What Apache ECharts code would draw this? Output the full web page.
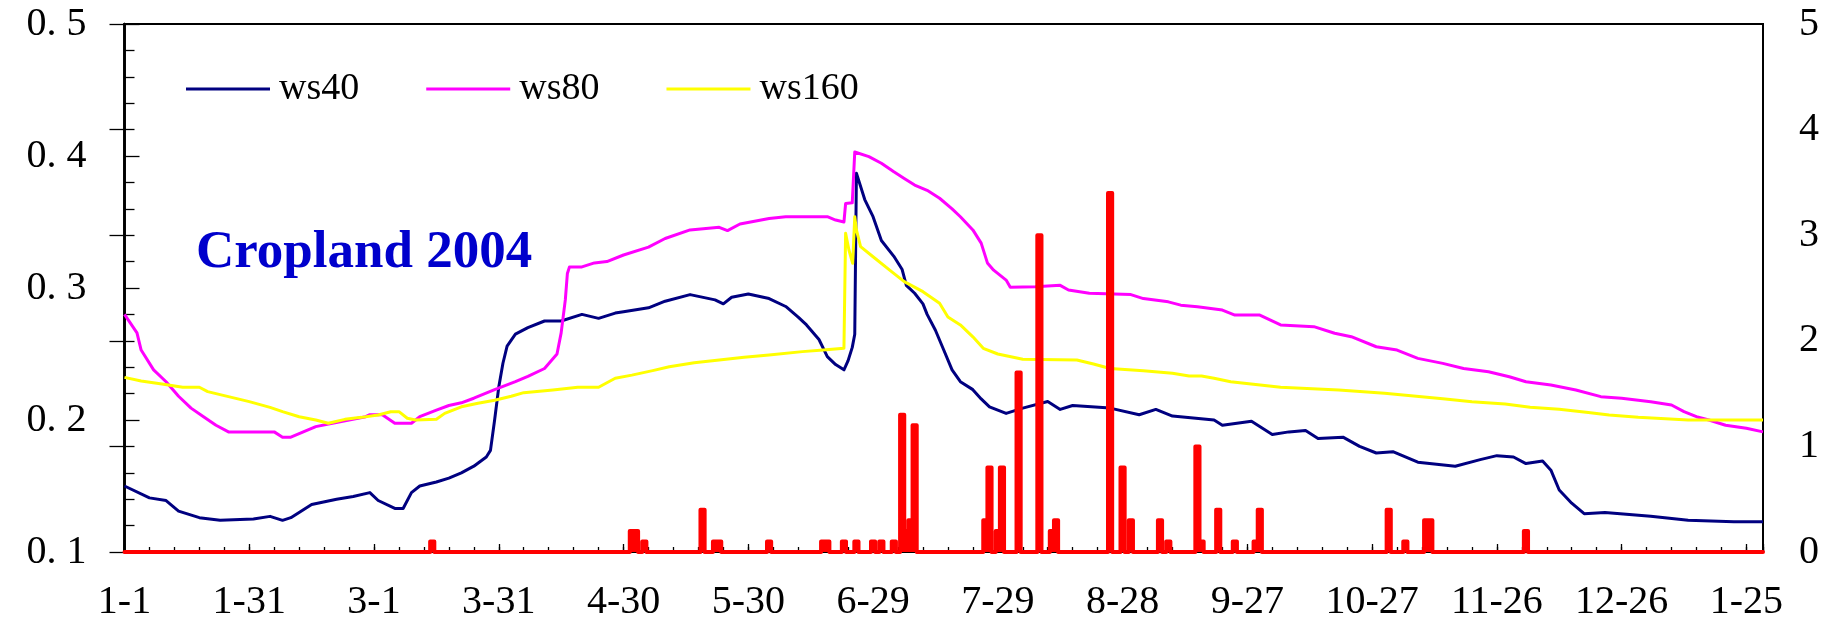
<!DOCTYPE html>
<html>
<head>
<meta charset="utf-8">
<script src="https://cdn.jsdelivr.net/npm/echarts@6/dist/echarts.min.js"></script>
<style>
  html, body { margin: 0; padding: 0; background: #fff; }
  #main { width: 1827px; height: 623px; }
</style>
</head>
<body>
<div id="main"></div>
<script>
// x axis: day index from 2004-01-01, a label every 30 days
var tickLabels = ['1-1', '1-31', '3-1', '3-31', '4-30', '5-30', '6-29', '7-29',
    '8-28', '9-27', '10-27', '11-26', '12-26', '1-25'];
var lastDay = 394;

// [day, value] (left axis)
var ws40 = [
    [0, 0.150], [6, 0.141], [10, 0.139], [13, 0.131], [18, 0.126], [23, 0.124], [31, 0.125],
    [35, 0.127], [38, 0.124], [40, 0.126], [45, 0.136], [51, 0.140], [55, 0.142], [59, 0.145],
    [61, 0.139], [65, 0.133], [67, 0.133], [69, 0.145], [71, 0.150], [75, 0.153], [78, 0.156],
    [81, 0.160], [84, 0.165], [87, 0.172], [88, 0.177], [89, 0.200], [90, 0.225], [91, 0.243],
    [92, 0.256], [94, 0.265], [97, 0.270], [101, 0.275], [105, 0.275], [110, 0.280], [114, 0.277],
    [118, 0.281], [120, 0.282], [126, 0.285], [130, 0.290], [136, 0.295], [142, 0.291], [144, 0.288],
    [146, 0.293], [150, 0.2955], [155, 0.292], [159, 0.286], [162, 0.278], [164, 0.272], [167, 0.261],
    [169, 0.248], [171, 0.242], [173, 0.238], [174, 0.245], [175, 0.255], [175.6, 0.265], [176, 0.387],
    [178, 0.367], [180, 0.354], [182, 0.336], [185, 0.324], [187, 0.314], [188, 0.302], [190, 0.296],
    [192, 0.288], [193, 0.280], [195, 0.268], [197, 0.253], [199, 0.238], [201, 0.229], [204, 0.223],
    [206, 0.216], [208, 0.210], [212, 0.205], [216, 0.209], [222, 0.214], [225, 0.208], [228, 0.211],
    [237, 0.209], [244, 0.204], [248, 0.208], [252, 0.203], [262, 0.200], [264, 0.196], [271, 0.199],
    [276, 0.189], [280, 0.191], [284, 0.192], [287, 0.186], [293, 0.187], [297, 0.180], [301, 0.175],
    [305, 0.176], [311, 0.168], [320, 0.165], [326, 0.170], [330, 0.173], [334, 0.172], [337, 0.167],
    [341, 0.169], [343, 0.162], [345, 0.147], [348, 0.137], [351, 0.129], [356, 0.130], [367, 0.127],
    [376, 0.124], [387, 0.123], [394, 0.123]
];

var ws80 = [
    [0, 0.280], [3, 0.266], [4, 0.253], [7, 0.238], [10, 0.229], [13, 0.218], [16, 0.209], [19, 0.2025],
    [22, 0.196], [25, 0.191], [36, 0.191], [38, 0.187], [40, 0.187], [43, 0.191], [46, 0.195],
    [50, 0.1975], [54, 0.200], [58, 0.2025], [59, 0.204], [62, 0.204], [65, 0.1975], [69, 0.1975],
    [71, 0.2025], [75, 0.2075], [78, 0.211], [81, 0.213], [84, 0.2165], [89, 0.223], [94, 0.229],
    [97, 0.233], [101, 0.239], [104, 0.250], [105, 0.266], [106, 0.291], [106.5, 0.311], [107, 0.316],
    [110, 0.316], [113, 0.319], [116, 0.320], [120, 0.325], [126, 0.331], [130, 0.3375], [136, 0.344],
    [143, 0.346], [145, 0.3435], [148, 0.3485], [155, 0.3527], [159, 0.354], [169, 0.354], [171, 0.3515],
    [173, 0.350], [173.4, 0.364], [175, 0.3645], [175.6, 0.403], [176, 0.404], [179, 0.3995],
    [182, 0.3945], [185, 0.388], [187.5, 0.383], [190, 0.378], [193, 0.374], [196, 0.368], [199, 0.360],
    [201, 0.354], [204, 0.344], [206, 0.334], [207.5, 0.319], [209, 0.3135], [212, 0.306], [213, 0.3005],
    [219, 0.301], [225, 0.302], [227, 0.2985], [232, 0.296], [242, 0.295], [245, 0.292], [251, 0.2895],
    [254, 0.287], [258, 0.2858], [264, 0.2833], [267, 0.2795], [273, 0.2795], [278, 0.272], [286, 0.2707],
    [291, 0.2657], [295, 0.2631], [301, 0.2555], [306, 0.253], [311, 0.2467], [317, 0.2429], [322, 0.239],
    [328, 0.2366], [333, 0.2328], [337, 0.229], [343, 0.2265], [349, 0.2227], [355, 0.2177], [360, 0.2164],
    [367, 0.2139], [372, 0.2114], [375, 0.2063], [378, 0.2025], [381, 0.200], [385, 0.196], [390, 0.1937],
    [394, 0.191]
];

var ws160 = [
    [0, 0.2323], [4, 0.2295], [9, 0.2273], [14, 0.2248], [18, 0.2248], [20, 0.2215], [25, 0.2177],
    [30, 0.2139], [35, 0.2096], [38, 0.2063], [42, 0.2025], [46, 0.200], [49, 0.1975], [53, 0.2005],
    [57, 0.202], [61, 0.2038], [64, 0.2063], [66, 0.2063], [68, 0.2013], [70, 0.200], [75, 0.2005],
    [77, 0.205], [81, 0.210], [85, 0.2127], [89, 0.215], [93, 0.218], [96, 0.2207], [103, 0.2227],
    [109, 0.2248], [114, 0.2248], [118, 0.2316], [122, 0.234], [127, 0.2374], [131, 0.2404],
    [137, 0.2434], [143, 0.2455], [149, 0.2475], [155, 0.2492], [163, 0.2518], [168, 0.253],
    [173, 0.2543], [173.4, 0.3414], [174.2, 0.3288], [175.1, 0.3187], [175.6, 0.354], [176, 0.344],
    [177, 0.3313], [180, 0.3237], [184, 0.3136], [187.5, 0.3048], [192, 0.2972], [196, 0.2884],
    [198, 0.278], [201, 0.272], [204, 0.263], [206.5, 0.2543], [210, 0.250], [216, 0.246], [229, 0.2455],
    [233, 0.2424], [237, 0.239], [245, 0.2374], [252, 0.2354], [256, 0.2333], [259, 0.2333],
    [262, 0.2316], [266, 0.229], [278, 0.2248], [292, 0.2227], [303, 0.2202], [310, 0.2182],
    [317, 0.2161], [324, 0.2139], [332, 0.2121], [338, 0.2096], [345, 0.2081], [352, 0.2056],
    [357, 0.2038], [364, 0.202], [376, 0.200], [394, 0.200]
];

// rain days (right axis); every other day is 0
var rainDays = [74, 122, 123, 125, 139, 142, 143, 155, 168, 169, 173, 176, 180, 182, 185, 187, 188, 189,
    190, 207, 208, 210, 211, 215, 220, 223, 224, 237, 240, 242, 249, 251, 258, 259, 263, 267, 272, 273,
    304, 308, 313, 314, 337];
var rainValues = [0.1, 0.2, 0.2, 0.1, 0.4, 0.1, 0.1, 0.1, 0.1, 0.1, 0.1, 0.1, 0.1, 0.1, 0.1, 1.3, 0.2, 0.3,
    1.2, 0.3, 0.8, 0.2, 0.8, 1.7, 3.0, 0.2, 0.3, 3.4, 0.8, 0.3, 0.3, 0.1, 1.0, 0.1, 0.4, 0.1, 0.1, 0.4,
    0.4, 0.1, 0.3, 0.3, 0.2];

var rain = [];
for (var d = 0; d <= lastDay; d++) rain.push([d, 0]);
rainDays.forEach(function (day, i) {
    rain[day][1] = rainValues[i];
});

var font = 'Liberation Serif';

function lineSeries(name, data, color) {
    return {
        name: name,
        type: 'line',
        data: data,
        symbol: 'none',
        itemStyle: {color: color},
        lineStyle: {color: color, width: 3, join: 'round'}
    };
}

var chart = echarts.init(document.getElementById('main'));

chart.setOption({
    animation: false,
    backgroundColor: '#fff',
    title: {
        text: 'Cropland 2004',
        left: 191,
        top: 222,
        textStyle: {fontFamily: font, fontWeight: 'bold', fontSize: 53, color: '#0000cc'}
    },
    legend: {
        data: ['ws40', 'ws80', 'ws160'],
        left: 186,
        top: 70,
        padding: 0,
        itemGap: 67,
        itemWidth: 84,
        itemHeight: 3,
        icon: 'rect',
        textStyle: {fontFamily: font, fontSize: 38, color: '#000', padding: [0, 0, 0, 4]}
    },
    grid: {
        left: 124.5, right: 64, top: 24, bottom: 71,
        show: true, borderColor: '#000', borderWidth: 2
    },
    xAxis: [
        {
            type: 'value', min: 0, max: lastDay, interval: 30, position: 'bottom',
            axisLine: {lineStyle: {color: '#000', width: 2}},
            axisTick: {inside: true, length: 8, lineStyle: {color: '#000', width: 1.3}},
            axisLabel: {
                margin: 30, fontSize: 40, fontFamily: font, color: '#000',
                formatter: function (v) {
                    var i = v / 30;
                    return (i % 1 === 0 && tickLabels[i]) || '';
                }
            },
            splitLine: {show: false}
        },
        {
            type: 'value', min: 0, max: lastDay, interval: 6, position: 'bottom',
            axisLine: {show: false},
            axisTick: {inside: true, length: 5, lineStyle: {color: '#000', width: 1.3}},
            axisLabel: {show: false},
            splitLine: {show: false}
        }
    ],
    yAxis: [
        {
            type: 'value', min: 0.1, max: 0.5, interval: 0.1, position: 'left',
            axisLine: {show: true, lineStyle: {color: '#000', width: 2.5}},
            axisTick: {inside: true, length: 15, lineStyle: {color: '#000', width: 1.3}},
            minorTick: {show: true, splitNumber: 5, length: 10, lineStyle: {color: '#000', width: 1.3}},
            axisLabel: {
                margin: 38, fontSize: 40, fontFamily: font, color: '#000',
                formatter: function (v) {
                    return v.toFixed(1).replace('.', '. ');
                }
            },
            splitLine: {show: false}
        },
        {
            type: 'value', min: 0, max: 5, interval: 1, position: 'right',
            axisLine: {show: true, lineStyle: {color: '#000', width: 2.5}},
            axisTick: {inside: true, length: 15, lineStyle: {color: '#000', width: 1.3}},
            axisLabel: {margin: 36, fontSize: 40, fontFamily: font, color: '#000'},
            splitLine: {show: false}
        }
    ],
    series: [
        lineSeries('ws40', ws40, '#000080'),
        lineSeries('ws80', ws80, '#ff00ff'),
        lineSeries('ws160', ws160, '#ffff00'),
        {
            name: 'rain',
            type: 'line',
            yAxisIndex: 1,
            step: 'middle',
            data: rain,
            symbol: 'none',
            z: 5,
            lineStyle: {color: '#ff0000', width: 4, join: 'round', cap: 'round'},
            areaStyle: {color: '#ff0000', opacity: 1}
        }
    ]
});
</script>
</body>
</html>
